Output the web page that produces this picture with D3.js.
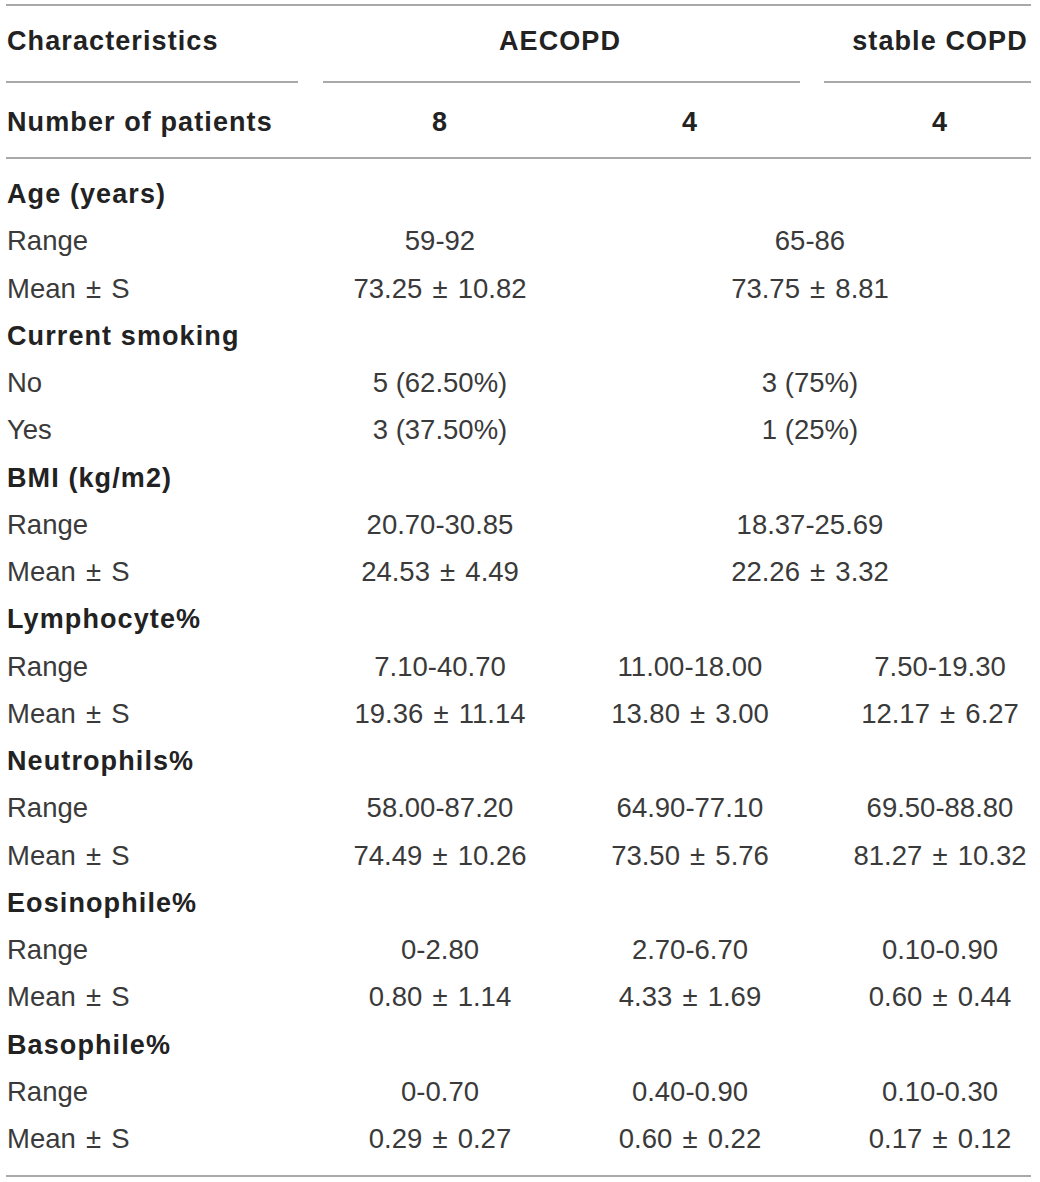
<!DOCTYPE html>
<html>
<head>
<meta charset="utf-8">
<script src="https://cdn.jsdelivr.net/npm/d3@7"></script>
<style>
  html, body { margin: 0; padding: 0; background: #fff; }
  svg text { font-family: "Liberation Sans", Arial, Helvetica, sans-serif; }
</style>
</head>
<body>
<div id="tabla"></div>
<script>
// column headers
var headerGroups = ["AECOPD", "stable COPD"];
var patientCounts = ["8", "4", "4"];

// row sections
var sections = ["Age (years)", "Current smoking", "BMI (kg/m2)", "Lymphocyte%", "Neutrophils%", "Eosinophile%", "Basophile%"];
var subLabels = [
    ["Range", "Mean \u00b1 S"],
    ["No", "Yes"],
    ["Range", "Mean \u00b1 S"],
    ["Range", "Mean \u00b1 S"],
    ["Range", "Mean \u00b1 S"],
    ["Range", "Mean \u00b1 S"],
    ["Range", "Mean \u00b1 S"]
];

// AECOPD (8)
var colA = [
    ["59-92", "73.25 \u00b1 10.82"],
    ["5 (62.50%)", "3 (37.50%)"],
    ["20.70-30.85", "24.53 \u00b1 4.49"],
    ["7.10-40.70", "19.36 \u00b1 11.14"],
    ["58.00-87.20", "74.49 \u00b1 10.26"],
    ["0-2.80", "0.80 \u00b1 1.14"],
    ["0-0.70", "0.29 \u00b1 0.27"]
];
// AECOPD (4)
var colB = [
    null,
    null,
    null,
    ["11.00-18.00", "13.80 \u00b1 3.00"],
    ["64.90-77.10", "73.50 \u00b1 5.76"],
    ["2.70-6.70", "4.33 \u00b1 1.69"],
    ["0.40-0.90", "0.60 \u00b1 0.22"]
];
// stable COPD (4)
var colC = [
    null,
    null,
    null,
    ["7.50-19.30", "12.17 \u00b1 6.27"],
    ["69.50-88.80", "81.27 \u00b1 10.32"],
    ["0.10-0.90", "0.60 \u00b1 0.44"],
    ["0.10-0.30", "0.17 \u00b1 0.12"]
];
// merged AECOPD(4) + stable COPD values
var colBC = [
    ["65-86", "73.75 \u00b1 8.81"],
    ["3 (75%)", "1 (25%)"],
    ["18.37-25.69", "22.26 \u00b1 3.32"],
    null, null, null, null
];

var width = 1040, height = 1182;
var lineColor = "#8c8c8c";
var boldColor = "#222";
var textColor = "#3a3a3a";

var svg = d3.select("#tabla").append("svg")
    .attr("width", width).attr("height", height);

// scales
var x = d3.scaleLinear().domain([0, 2]).range([440, 940]);
var totalRows = sections.length * 3 - 1;
var y = d3.scaleLinear().domain([0, totalRows]).range([203, 203 + totalRows * 47.25]);

// build flat row list
var filas = [];
var r = 0;
for (var i = 0; i < sections.length; i++) {
    filas.push({ label: sections[i], bold: true, row: r++, vals: [] });
    for (var j = 0; j < subLabels[i].length; j++) {
        var vals = [];
        vals.push({ c: 0, t: colA[i][j] });
        if (colBC[i]) {
            vals.push({ c: 1.48, t: colBC[i][j] });
        } else {
            vals.push({ c: 1, t: colB[i][j] });
            vals.push({ c: 2, t: colC[i][j] });
        }
        filas.push({ label: subLabels[i][j], bold: false, row: r++, vals: vals });
    }
}

// extra room around the plus-minus sign only
function espacio(t) { return t.indexOf("\u00b1") >= 0 ? 2.5 : 0; }

// rules
var left = 6, right = 1031;
function regla(x1, x2, yy) {
    svg.append("line").attr("x1", x1).attr("x2", x2).attr("y1", yy).attr("y2", yy)
        .attr("stroke", lineColor).attr("stroke-width", 1.5);
}
regla(left, right, 5);
[[left, 298], [323, 800], [824, right]].forEach(function (s) { regla(s[0], s[1], 82); });
regla(left, right, 158);
regla(left, right, 1176);

function boldText(tx, ty, t, anchor) {
    svg.append("text").attr("x", tx).attr("y", ty)
        .attr("text-anchor", anchor || "start")
        .attr("font-size", 27).attr("font-weight", "bold")
        .attr("letter-spacing", 1.1)
        .attr("fill", boldColor).text(t);
}

// header
boldText(7, 50, "Characteristics");
boldText(x(0.48), 50, headerGroups[0], "middle");
boldText(x(2), 50, headerGroups[1], "middle");
boldText(7, 131, "Number of patients");
patientCounts.forEach(function (n, k) { boldText(x(k), 131, n, "middle"); });

// body rows
var g = svg.append("g");
var filasSel = g.selectAll("g.fila").data(filas).enter().append("g").attr("class", "fila");

filasSel.append("text")
    .attr("x", 7)
    .attr("y", function (d) { return y(d.row); })
    .attr("font-size", function (d) { return d.bold ? 27 : 27.5; })
    .attr("font-weight", function (d) { return d.bold ? "bold" : "normal"; })
    .attr("letter-spacing", function (d) { return d.bold ? 1.1 : 0; })
    .attr("word-spacing", function (d) { return d.bold ? 0 : espacio(d.label); })
    .attr("fill", function (d) { return d.bold ? boldColor : textColor; })
    .text(function (d) { return d.label; });

filasSel.selectAll("text.val").data(function (d) {
        return d.vals.map(function (v) { return { c: v.c, t: v.t, row: d.row }; });
    }).enter().append("text")
    .attr("class", "val")
    .attr("x", function (d) { return x(d.c); })
    .attr("y", function (d) { return y(d.row); })
    .attr("text-anchor", "middle")
    .attr("font-size", 27.5)
    .attr("word-spacing", function (d) { return espacio(d.t); })
    .attr("fill", textColor)
    .text(function (d) { return d.t; });
</script>
</body>
</html>
